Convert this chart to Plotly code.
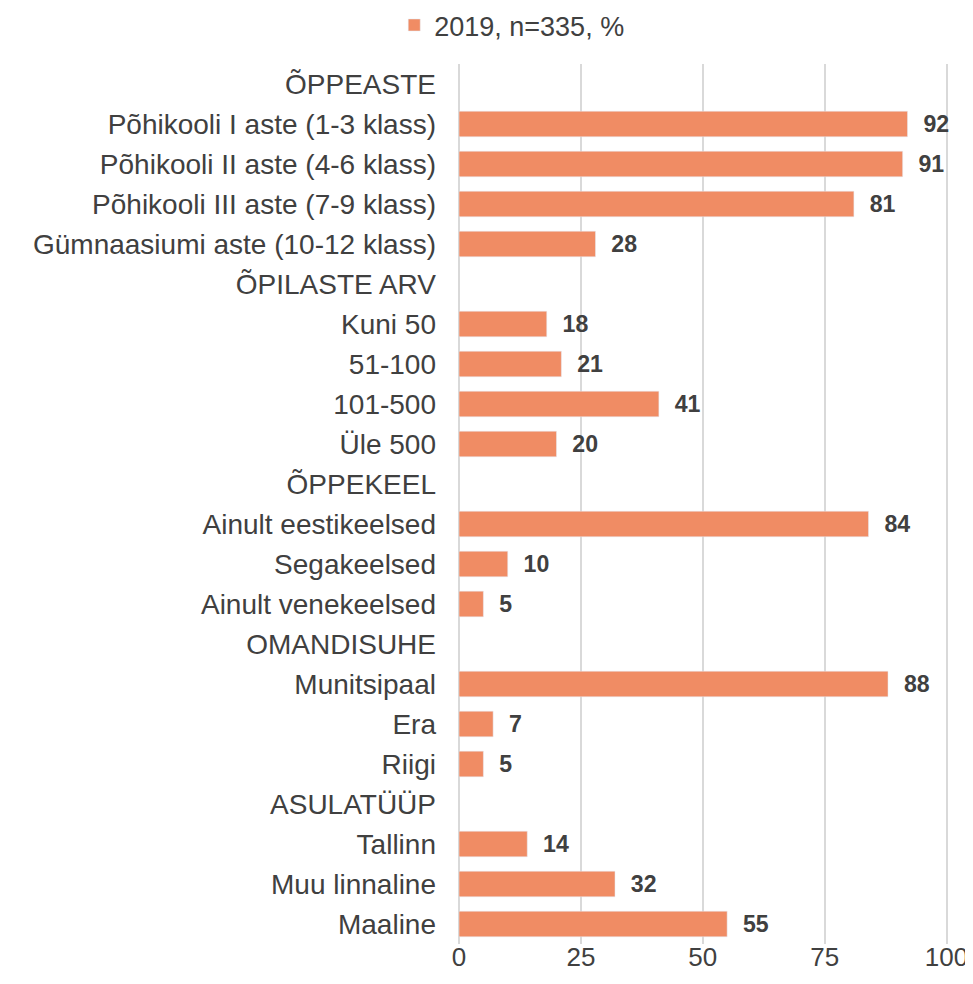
import plotly.graph_objects as go

# kategooriad (pealkirjaread ilma väärtuseta)
kategooriad = [
    "ÕPPEASTE",
    "Põhikooli I aste (1-3 klass)",
    "Põhikooli II aste (4-6 klass)",
    "Põhikooli III aste (7-9 klass)",
    "Gümnaasiumi aste (10-12 klass)",
    "ÕPILASTE ARV",
    "Kuni 50",
    "51-100",
    "101-500",
    "Üle 500",
    "ÕPPEKEEL",
    "Ainult eestikeelsed",
    "Segakeelsed",
    "Ainult venekeelsed",
    "OMANDISUHE",
    "Munitsipaal",
    "Era",
    "Riigi",
    "ASULATÜÜP",
    "Tallinn",
    "Muu linnaline",
    "Maaline",
]

vaartused = [None, 92, 91, 81, 28, None, 18, 21, 41, 20, None, 84, 10, 5,
             None, 88, 7, 5, None, 14, 32, 55]

x_tickid = [0, 25, 50, 75, 100]

fig = go.Figure()

fig.add_trace(go.Bar(
    y=kategooriad,
    x=vaartused,
    orientation="h",
    name="2019, n=335, %",
    marker=dict(color="#F08C64"),
    text=vaartused,
    texttemplate="\u00a0\u00a0%{x}",
    textposition="outside",
    textfont=dict(family="Liberation Sans", size=28, color="#404040", weight="bold"),
    cliponaxis=False,
))

fig.update_layout(
    width=965,
    height=968,
    margin=dict(l=451, r=25, t=56, b=32),
    plot_bgcolor="white",
    paper_bgcolor="white",
    font=dict(family="Liberation Sans", size=28, color="#404040"),
    bargap=0.36,
    showlegend=True,
    legend=dict(orientation="h", xref="container", yref="container",
                x=0.522, y=0.982, xanchor="center", yanchor="middle",
                font=dict(size=27)),
    xaxis=dict(range=[0, 100.3], tickvals=x_tickid, showgrid=True,
               gridcolor="#d9d9d9", gridwidth=2, zeroline=True,
               zerolinecolor="#d9d9d9", zerolinewidth=2, ticks="",
               tickfont=dict(size=26), ticklabelstandoff=-5,
               automargin=False),
    yaxis=dict(autorange="reversed", ticks="", ticklabelstandoff=22,
               categoryorder="array", categoryarray=kategooriad,
               automargin=False),
)

fig.write_html("out.html")
